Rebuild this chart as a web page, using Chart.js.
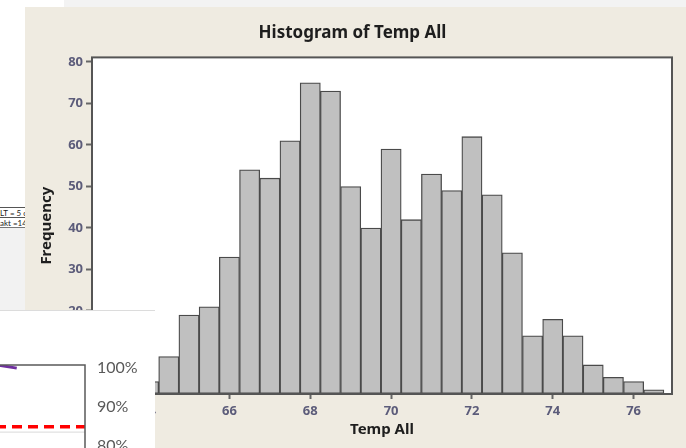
<!DOCTYPE html>
<html>
<head>
<meta charset="utf-8">
<script src="https://cdn.jsdelivr.net/npm/chart.js@4.4.0/dist/chart.umd.min.js"></script>
<style>
  body { margin: 0; width: 686px; height: 448px; overflow: hidden; background: #fff; position: relative; }
  #tabStrip { position: absolute; left: 64px; top: 0; width: 622px; height: 7px; background: #f3f3f3; }
  #leftGray { position: absolute; left: 0; top: 228px; width: 25px; height: 82px; background: #f2f2f2; }
  #note { position: absolute; left: 0; top: 207px; width: 25px; overflow: hidden; background: #fff; }
  #note .row { height: 9px; line-height: 9px; border-top: 1px solid #555; font: 8px Lato, sans-serif; color: #222; white-space: nowrap; }
  #note .row:last-child { border-bottom: 1px solid #777; }
  #panel { position: absolute; left: 25px; top: 7px; width: 661px; height: 441px; background: #efebe1; }
  #inset { position: absolute; left: 0; top: 310px; width: 155px; height: 137px; background: #fff; border-top: 1px solid #dcdcdc; overflow: hidden; }
  #insetCanvas { position: absolute; left: -20px; top: 0; }
</style>
</head>
<body>
<div id="tabStrip"></div>
<div id="leftGray"></div>
<div id="note"><div class="row">LT = 5 c</div><div class="row">akt =14</div></div>
<div id="panel"><canvas id="histChart" width="661" height="441"></canvas></div>
<div id="inset"><canvas id="insetCanvas" width="175" height="170"></canvas></div>
<script>
// --- histogram data (bin centers, counts) ---
const binCenters = [64, 64.5, 65, 65.5, 66, 66.5, 67, 67.5, 68, 68.5, 69, 69.5, 70,
                    70.5, 71, 71.5, 72, 72.5, 73, 73.5, 74, 74.5, 75, 75.5, 76, 76.5];
const counts = [3, 9, 19, 21, 33, 54, 52, 61, 75, 73, 50, 40, 59,
                42, 53, 49, 62, 48, 34, 14, 18, 14, 7, 4, 3, 1];
const xTicks = [64, 66, 68, 70, 72, 74, 76];
const yTicks = [0, 10, 20, 30, 40, 50, 60, 70, 80];

// --- pasted-in chart fragment (bottom left) ---
const insetTicks = [80, 90, 100];
const purpleX = [0, 1.4];
const purpleY = [101.5, 100];
const targetX = [0, 4];
const targetY = [85, 85];
const lowerX = [0, 4];
const lowerY = [83.6, 83.6];

const tickFont = { family: 'Noto Sans', size: 13, weight: 'bold' };
const tickColor = '#5c5c7a';

const plotFrame = {
    id: 'plotFrame',
    beforeDraw(chart, args, opts) {
        const a = chart.chartArea;
        const ctx = chart.ctx;
        if (opts.fill) {
            ctx.save();
            ctx.fillStyle = opts.fill;
            ctx.fillRect(a.left, a.top, a.right - a.left, a.bottom - a.top);
            ctx.restore();
        }
    },
    afterDatasetsDraw(chart, args, opts) {
        const a = chart.chartArea;
        const ctx = chart.ctx;
        ctx.save();
        ctx.strokeStyle = opts.color;
        ctx.lineWidth = opts.width;
        ctx.strokeRect(a.left, a.top, a.right - a.left, a.bottom - a.top);
        ctx.restore();
    }
};

new Chart(document.getElementById('histChart'), {
    type: 'bar',
    data: {
        datasets: [{
            data: binCenters.map((c, i) => ({ x: c, y: counts[i] })),
            backgroundColor: '#c0c0c0',
            borderColor: '#4a4a4a',
            borderWidth: 1.3,
            borderSkipped: false,
            barPercentage: 1,
            categoryPercentage: 1
        }]
    },
    options: {
        responsive: false,
        animation: false,
        layout: { padding: { left: 8, right: 14, top: 0, bottom: 6 } },
        plugins: {
            legend: { display: false },
            tooltip: { enabled: false },
            title: {
                display: true,
                text: 'Histogram of Temp All',
                color: '#1e1e1e',
                font: { family: 'Noto Sans', size: 17, weight: 'bold' },
                padding: { top: 16, bottom: 14 }
            },
            plotFrame: { color: '#555', width: 2, fill: '#fff' }
        },
        scales: {
            x: {
                type: 'linear',
                offset: false,
                min: 62.6,
                max: 76.95,
                afterBuildTicks: axis => { axis.ticks = xTicks.map(v => ({ value: v })); },
                afterFit: axis => { axis.height = 48; },
                grid: { offset: false, drawOnChartArea: false, drawTicks: true, tickLength: 5, tickColor: '#666', tickWidth: 2 },
                border: { display: false },
                ticks: { color: tickColor, font: tickFont, padding: 4, maxRotation: 0 },
                title: {
                    display: true,
                    text: 'Temp All',
                    color: '#1e1e1e',
                    font: { family: 'Noto Sans', size: 15, weight: 'bold' },
                    padding: { top: 0, bottom: 3 }
                }
            },
            y: {
                min: 0,
                max: 81.1,
                afterBuildTicks: axis => { axis.ticks = yTicks.map(v => ({ value: v })); },
                afterFit: axis => { axis.width = 59; },
                grid: { drawOnChartArea: false, drawTicks: true, tickLength: 6, tickColor: '#666', tickWidth: 2 },
                border: { display: false },
                ticks: { color: tickColor, font: tickFont, padding: 3 },
                title: {
                    display: true,
                    text: 'Frequency',
                    color: '#1e1e1e',
                    font: { family: 'Noto Sans', size: 15, weight: 'bold' },
                    padding: { top: 5, bottom: 0 }
                }
            }
        }
    },
    plugins: [plotFrame]
});

// fragment of another chart pasted over the bottom-left corner
new Chart(document.getElementById('insetCanvas'), {
    type: 'line',
    data: {
        datasets: [{
            data: lowerX.map((x, i) => ({ x: x, y: lowerY[i] })),
            borderColor: '#d9d9d9',
            borderWidth: 1,
            pointRadius: 0
        }, {
            data: targetX.map((x, i) => ({ x: x, y: targetY[i] })),
            borderColor: '#ff0000',
            borderWidth: 3.5,
            borderDash: [10, 6],
            pointRadius: 0
        }, {
            data: purpleX.map((x, i) => ({ x: x, y: purpleY[i] })),
            borderColor: '#7030a0',
            borderWidth: 3,
            pointRadius: 0
        }]
    },
    options: {
        responsive: false,
        animation: false,
        layout: { padding: { left: 0, right: 0, top: 54, bottom: 20 } },
        plugins: {
            legend: { display: false },
            tooltip: { enabled: false },
            plotFrame: { color: '#595959', width: 1.5 }
        },
        scales: {
            x: { type: 'linear', min: 0, max: 4, display: false },
            y: {
                position: 'right',
                min: 76.2,
                max: 100.8,
                afterBuildTicks: axis => { axis.ticks = insetTicks.map(v => ({ value: v })); },
                afterFit: axis => { axis.width = 70; },
                grid: { display: false },
                border: { display: false },
                ticks: {
                    color: '#595959',
                    font: { family: 'Lato', size: 16 },
                    padding: 4,
                    callback: v => v + '%'
                }
            }
        }
    },
    plugins: [plotFrame]
});
</script>
</body>
</html>
